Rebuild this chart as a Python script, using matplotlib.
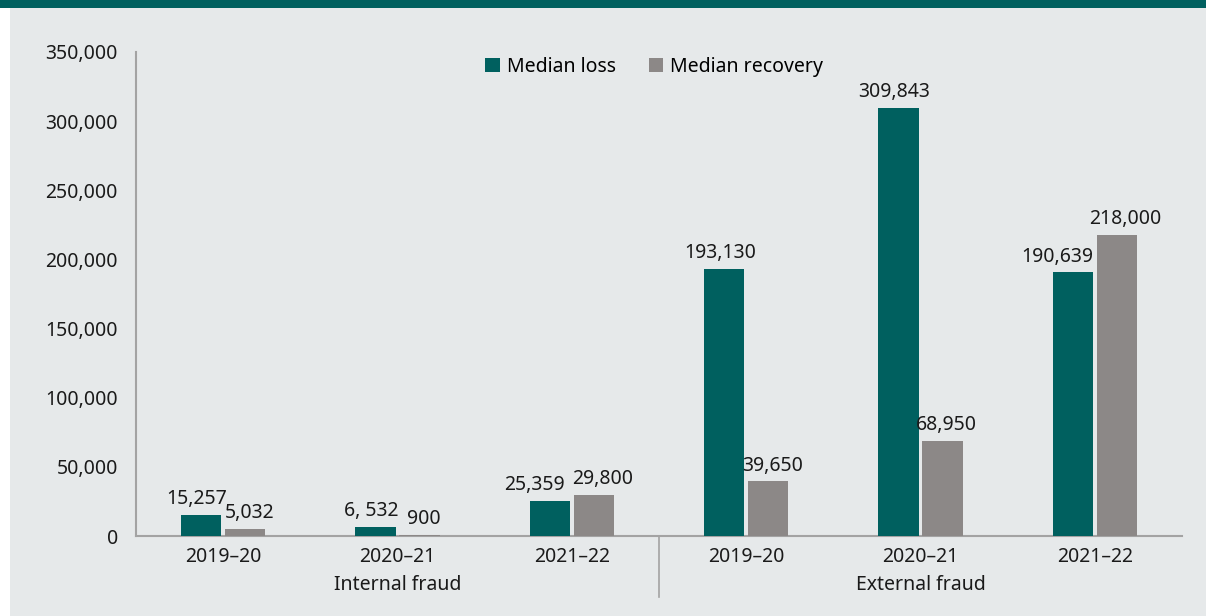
import numpy as np
import matplotlib.pyplot as plt
from matplotlib.patches import Rectangle, Patch

# data
years = ['2019–20', '2020–21', '2021–22', '2019–20', '2020–21', '2021–22']
groups = ['Internal fraud', 'External fraud']
median_loss = [15257, 6532, 25359, 193130, 309843, 190639]
median_recovery = [5032, 900, 29800, 39650, 68950, 218000]
loss_labels = ['15,257', '6, 532', '25,359', '193,130', '309,843', '190,639']
recovery_labels = ['5,032', '900', '29,800', '39,650', '68,950', '218,000']
yticks = [0, 50000, 100000, 150000, 200000, 250000, 300000, 350000]

teal = '#00605F'
grey = '#8C8887'
panel = '#E6E9EA'
axis_col = '#A3A3A3'
fs = 14

plt.rcParams['font.family'] = ['Noto Sans', 'DejaVu Sans']

W, H = 1206, 616
fig = plt.figure(figsize=(W / 100, H / 100), dpi=100)
fig.patch.set_facecolor('white')

# light panel and the dark banner at the top (behind the axes)
fig.patches.append(Rectangle((10 / W, 0), 1, 1, transform=fig.transFigure,
                             facecolor=panel, edgecolor='none', zorder=-2))
fig.patches.append(Rectangle((0, 1 - 8 / H), 1, 8 / H, transform=fig.transFigure,
                             facecolor=teal, edgecolor='none', zorder=-1))

ax = fig.add_axes([136 / W, 1 - 536 / H, (1182 - 136) / W, (536 - 52) / H])
ax.set_facecolor('none')

x = np.arange(len(years))
off = 0.126
bw = 0.23
ax.bar(x - off, median_loss, bw, color=teal, label='Median loss', zorder=3)
ax.bar(x + off, median_recovery, bw, color=grey, label='Median recovery', zorder=3)

# value labels, nudged apart where the recovery bar is the taller one
for i in range(len(x)):
    dl, dr = -3, 3
    if median_recovery[i] > median_loss[i]:
        dl, dr = -11, 6
    ax.annotate(loss_labels[i], (x[i] - off, median_loss[i]), xytext=(dl, 4),
                textcoords='offset points', ha='center', va='bottom', fontsize=fs,
                color='#1a1a1a')
    ax.annotate(recovery_labels[i], (x[i] + off, median_recovery[i]), xytext=(dr, 4),
                textcoords='offset points', ha='center', va='bottom', fontsize=fs,
                color='#1a1a1a')

ax.set_xlim(-0.5, len(x) - 0.5)
ax.set_ylim(0, 350000)
ax.set_yticks(yticks)
ax.set_yticklabels([f'{v:,}' for v in yticks])
ax.set_xticks(x)
ax.set_xticklabels(years)
ax.tick_params(axis='both', length=0, labelsize=fs, colors='#1a1a1a')
ax.tick_params(axis='y', pad=13)
ax.tick_params(axis='x', pad=8)

for s in ['top', 'right']:
    ax.spines[s].set_visible(False)
for s in ['left', 'bottom']:
    ax.spines[s].set_color(axis_col)
    ax.spines[s].set_linewidth(1.5)

# group labels and separator under the axis
tr = ax.get_xaxis_transform()
ax.text(1, -0.101, groups[0], transform=tr, ha='center', va='center', fontsize=fs,
        color='#1a1a1a')
ax.text(4, -0.101, groups[1], transform=tr, ha='center', va='center', fontsize=fs,
        color='#1a1a1a')
ax.plot([2.5, 2.5], [0, -0.126], transform=tr, color=axis_col, lw=1.2, clip_on=False)

handles = [Patch(facecolor=teal), Patch(facecolor=grey)]
fig.legend(handles, ['Median loss', 'Median recovery'], loc='center',
           bbox_to_anchor=(654 / W, 1 - 67 / H), ncol=2, frameon=False, fontsize=fs,
           handlelength=0.75, handleheight=0.75, handletextpad=0.35, columnspacing=1.7)

fig.savefig('out.png', dpi=100, facecolor=fig.get_facecolor())
